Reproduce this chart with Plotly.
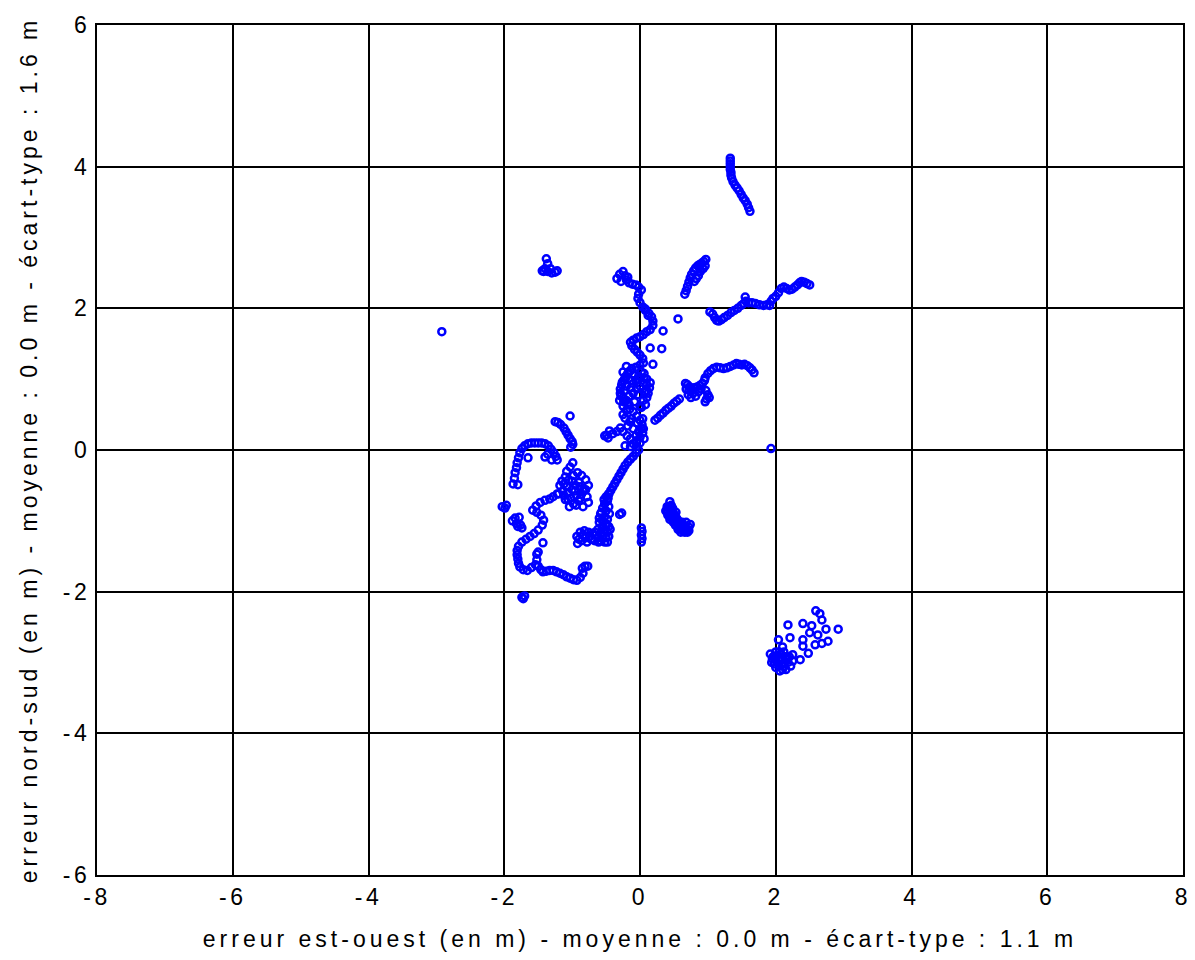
import plotly.graph_objects as go

# --- data (east-west error x, north-south error y, metres) ---
track_a_x = [1.33,1.33,1.33,1.33,1.33,1.34,1.34,1.35,1.37,1.40,1.43,1.46,1.49,1.52,1.55,1.58,1.60,1.62]
track_a_y = [4.12,4.08,4.04,4.00,3.96,3.92,3.88,3.84,3.79,3.74,3.70,3.66,3.61,3.56,3.52,3.47,3.42,3.37]

track_b_x = [1.03,1.07,1.10,1.13,1.16,1.20,1.24,1.29,1.34,1.39,1.44,1.49,1.53,1.56,1.55,1.60,1.65,1.70,1.76,1.82,1.87,1.91,1.93,1.96,2.00,2.04,2.08,2.12,2.16,2.20,2.24,2.28,2.32,2.35,2.38,2.42,2.46,2.50]
track_b_y = [1.95,1.92,1.87,1.83,1.82,1.84,1.87,1.90,1.94,1.97,2.00,2.04,2.07,2.10,2.16,2.08,2.08,2.07,2.05,2.04,2.05,2.04,2.10,2.14,2.17,2.22,2.28,2.30,2.28,2.26,2.27,2.30,2.33,2.36,2.38,2.37,2.35,2.33]

track_c_x = [0.96,1.00,1.04,1.08,1.13,1.18,1.23,1.28,1.33,1.38,1.42,1.46,1.50,1.54,1.58,1.62,1.65,1.68]
track_c_y = [1.02,1.08,1.12,1.15,1.17,1.16,1.15,1.16,1.18,1.20,1.22,1.21,1.20,1.21,1.19,1.16,1.13,1.09]

cluster_d_x = [0.67,0.70,0.73,0.68,0.72,0.76,0.80,0.78,0.82,0.75,0.84,0.88,0.92,0.95,0.97,1.00,0.98,1.02,0.96,0.71,0.86,0.90]
cluster_d_y = [0.94,0.92,0.89,0.86,0.84,0.86,0.88,0.80,0.76,0.74,0.89,0.91,0.94,0.98,0.84,0.78,0.72,0.74,0.68,0.78,0.82,0.86]

track_e_x = [0.22,0.26,0.30,0.34,0.38,0.42,0.46,0.50,0.54,0.58]
track_e_y = [0.42,0.45,0.49,0.52,0.56,0.59,0.62,0.66,0.69,0.72]

cluster_f_x = [0.66,0.68,0.70,0.72,0.74,0.76,0.79,0.82,0.85,0.88,0.91,0.94,0.97,0.96,0.93,0.89,0.86,0.83,0.80,0.88]
cluster_f_y = [2.20,2.25,2.31,2.37,2.43,2.48,2.53,2.57,2.60,2.62,2.64,2.66,2.69,2.60,2.56,2.52,2.46,2.42,2.38,2.58]

cluster_g_x = [-1.38,-1.36,-1.40,-1.44,-1.36,-1.30,-1.25,-1.22,-1.32,-1.42]
cluster_g_y = [2.70,2.63,2.56,2.53,2.52,2.50,2.51,2.53,2.56,2.52]

isolated_x = [-2.92,1.93,0.56,0.34,0.15,0.32,0.19]
isolated_y = [1.67,0.02,1.85,1.68,1.44,1.43,1.21]

column_top_x = [-0.34,-0.30,-0.25,-0.22,-0.20,-0.16,-0.11,-0.06,-0.02,0.02,-0.02,-0.03,0.00,0.04,0.08,0.13,0.17,0.19,0.19,0.15,0.10,0.05,0.00,-0.05,-0.10,-0.14,-0.12,-0.08,-0.04,0.00,0.04,0.05,0.00,-0.06,-0.12,0.08,0.12,-0.28,-0.18]
column_top_y = [2.42,2.48,2.52,2.46,2.40,2.36,2.34,2.33,2.30,2.26,2.20,2.14,2.08,2.02,1.97,1.93,1.88,1.82,1.76,1.70,1.67,1.63,1.60,1.58,1.55,1.52,1.47,1.42,1.38,1.34,1.29,1.23,1.20,1.17,1.15,1.99,1.90,2.38,2.44]

column_low_x = [-0.17,-0.21,-0.24,-0.27,-0.29,-0.29,-0.25,-0.20,-0.16,-0.10,-0.05,0.00,0.05,0.10,0.14,0.12,0.10,0.05,-0.18,-0.25,-0.15,-0.10,-0.05,0.00,0.03,0.05,0.04,0.00,-0.05,-0.10,-0.14,-0.19,-0.25,-0.29,-0.34,-0.40,-0.45,-0.49,-0.52,-0.47,-0.05,0.00,-0.22,-0.20,-0.25,0.10,0.15,-0.30,-0.25,-0.08,-0.02,0.06,-0.12,-0.20,0.02,0.08,-0.15,-0.22,
                -0.26,-0.22,-0.18,-0.14,-0.10,-0.06,-0.02,0.02,0.06,0.10,-0.28,-0.23,-0.13,-0.03,0.07,-0.24,-0.16,-0.08,0.00,0.08,-0.20,-0.12,-0.04,0.04,-0.18,-0.10,-0.02,0.06,-0.14,-0.06,0.02]
column_low_y = [1.10,1.04,0.98,0.92,0.86,0.80,0.74,0.70,0.76,0.80,0.86,0.90,0.95,0.92,0.88,0.80,0.74,0.70,0.64,0.62,0.58,0.54,0.48,0.42,0.36,0.30,0.24,0.18,0.13,0.09,0.05,0.20,0.26,0.31,0.26,0.23,0.27,0.21,0.20,0.17,0.05,0.10,0.06,1.18,1.10,1.00,0.95,0.70,0.50,1.05,1.00,1.08,0.98,0.90,0.60,0.82,0.40,0.45,
                0.96,1.02,1.08,1.12,0.94,0.98,1.04,1.10,1.02,0.84,0.76,0.84,0.88,0.78,0.82,0.68,0.64,0.68,0.62,0.64,0.56,0.44,0.38,0.44,0.34,0.30,0.26,0.16,0.16,0.20,0.30]

diag_n_x = [-0.02,-0.06,-0.10,-0.14,-0.18,-0.22,-0.25,-0.28,-0.31,-0.34,-0.37,-0.40,-0.43,-0.46]
diag_n_y = [0.00,-0.04,-0.09,-0.13,-0.17,-0.22,-0.27,-0.32,-0.37,-0.42,-0.47,-0.52,-0.57,-0.62]

blob_p_x = [-0.46,-0.50,-0.48,-0.52,-0.46,-0.55,-0.50,-0.45,-0.58,-0.52,-0.48,-0.55,-0.60,-0.50,-0.46,-0.56,-0.62,-0.52,-0.48,-0.58,-0.65,-0.55,-0.50,-0.62,-0.70,-0.58,-0.52,-0.76,-0.82,-0.88,-0.93,-0.80,-0.86,-0.92,-0.78,-0.46,-0.48,
            -0.47,-0.53,-0.57,-0.49,-0.44,-0.60,-0.54,-0.67,-0.72,-0.84,-0.90,-0.74,-0.66,-0.61]
blob_p_y = [-0.62,-0.66,-0.72,-0.76,-0.80,-0.82,-0.86,-0.90,-0.90,-0.94,-0.98,-1.00,-1.02,-1.04,-1.08,-1.08,-1.12,-1.12,-1.16,-1.18,-1.20,-1.22,-1.24,-1.24,-1.18,-1.28,-1.30,-1.16,-1.14,-1.16,-1.22,-1.24,-1.28,-1.32,-1.30,-1.22,-1.30,
            -0.68,-0.70,-0.88,-1.06,-1.12,-0.96,-1.16,-1.28,-1.26,-1.20,-1.26,-1.22,-1.16,-1.30]

blob_q_x = [-0.99,-1.03,-1.08,-1.10,-1.15,-1.18,-1.12,-1.05,-0.98,-0.92,-0.86,-0.80,-0.76,-0.82,-0.88,-0.95,-1.00,-1.06,-1.12,-1.02,-0.94,-0.86,-0.78,-0.90,-0.98,-1.04,-0.84,-0.76,-1.14,-1.20,
            -1.00,-0.96,-1.06,-0.90,-0.84,-1.10,-0.94,-0.88,-1.08,-0.80]
blob_q_y = [-0.18,-0.24,-0.30,-0.38,-0.44,-0.50,-0.48,-0.42,-0.36,-0.32,-0.36,-0.42,-0.50,-0.56,-0.52,-0.50,-0.56,-0.60,-0.64,-0.68,-0.64,-0.62,-0.66,-0.72,-0.76,-0.80,-0.80,-0.74,-0.58,-0.62,
            -0.44,-0.58,-0.70,-0.46,-0.58,-0.70,-0.78,-0.68,-0.52,-0.56]

cluster_r_x = [-1.25,-1.21,-1.17,-1.03,-1.12,-1.09,-1.06,-1.03,-1.00,-0.99,-1.02]
cluster_r_y = [0.40,0.39,0.36,0.48,0.31,0.26,0.21,0.16,0.12,0.08,0.04]

arc_s_x = [-1.22,-1.24,-1.27,-1.31,-1.35,-1.40,-1.45,-1.50,-1.55,-1.60,-1.65,-1.70,-1.74,-1.77,-1.79,-1.81,-1.82,-1.84,-1.85,-1.87,-1.80,-1.65,-1.40,-1.36,-1.30]
arc_s_y = [-0.14,-0.09,-0.04,0.01,0.06,0.09,0.10,0.10,0.10,0.10,0.09,0.06,0.02,-0.04,-0.11,-0.18,-0.25,-0.32,-0.40,-0.48,-0.49,-0.11,-0.10,-0.06,-0.14]

left_t_x = [-2.03,-1.99,-1.97,-1.88,-1.84,-1.82,-1.78,-1.76,-1.74,-1.80]
left_t_y = [-0.80,-0.82,-0.78,-1.00,-0.96,-1.04,-0.95,-1.06,-1.10,-1.08]

arm_u_x = [-1.22,-1.28,-1.33,-1.40,-1.47,-1.53,-1.58,-1.52,-1.46,-1.42,-1.44,-1.50,-1.56,-1.62,-1.68,-1.74,-1.79,-1.81,-1.81,-1.80,-1.79,-1.77,-1.72,-1.66,-1.60,-1.54,-1.52,-1.52,-1.50,-1.46,-1.43,-1.38,-1.33,-1.28,-1.23,-1.18,-1.13,-1.08,-1.03,-0.98,-0.93,-0.88,-0.84,-0.85,-0.81,-0.77,-1.43,-1.50]
arm_u_y = [-0.62,-0.66,-0.69,-0.71,-0.74,-0.79,-0.85,-0.88,-0.92,-0.99,-1.06,-1.13,-1.18,-1.22,-1.26,-1.30,-1.36,-1.42,-1.48,-1.54,-1.60,-1.65,-1.69,-1.70,-1.66,-1.62,-1.55,-1.47,-1.64,-1.69,-1.72,-1.71,-1.70,-1.70,-1.72,-1.74,-1.76,-1.79,-1.81,-1.83,-1.84,-1.80,-1.74,-1.67,-1.64,-1.64,-1.31,-1.44]

bottom_v_x = [-1.74,-1.72,-1.70]
bottom_v_y = [-2.08,-2.10,-2.06]

cluster_w_x = [0.44,0.46,0.42,0.40,0.44,0.48,0.52,0.50,0.55,0.58,0.62,0.60,0.65,0.68,0.72,0.74,0.70,0.64,0.56,0.60,0.02,0.03,0.02,0.03,0.02,-0.27,-0.30,
               0.47,0.50,0.53,0.56,0.59,0.62,0.66,0.70,0.45,0.52,0.58,0.64,0.68,
               0.38,0.41,0.46,0.50,0.54,0.49,0.58,0.62,0.66,0.72,0.52,0.44,0.40,0.48,0.53]
cluster_w_y = [-0.73,-0.78,-0.82,-0.88,-0.92,-0.88,-0.93,-0.98,-0.98,-1.04,-1.02,-1.10,-1.08,-1.13,-1.09,-1.05,-1.16,-1.15,-1.12,-1.16,-1.10,-1.15,-1.20,-1.25,-1.30,-0.89,-0.91,
               -0.85,-0.90,-0.95,-1.00,-1.06,-1.08,-1.12,-1.12,-0.80,-1.02,-1.10,-1.06,-1.02,
               -0.86,-0.92,-0.96,-0.94,-1.00,-1.02,-1.08,-1.12,-1.16,-1.14,-1.06,-0.98,-0.80,-0.82,-0.88]

cluster_z_x = [2.18,2.21,2.40,2.53,2.59,2.65,2.68,2.74,2.92,2.77,2.62,2.50,2.40,2.40,2.48,2.58,2.68,2.36,2.25,2.04,1.92,1.95,2.00,2.02,2.05,2.10,2.08,2.12,2.15,2.18,1.98,2.05,2.10,2.15,2.20,2.22,2.00,1.94,2.25,2.06,2.12,
               2.02,2.08,2.14,1.96,2.04,2.10,2.18,2.00,2.12]
cluster_z_y = [-2.47,-2.65,-2.45,-2.48,-2.27,-2.31,-2.40,-2.53,-2.53,-2.70,-2.61,-2.58,-2.68,-2.77,-2.87,-2.75,-2.73,-2.96,-2.89,-2.68,-2.88,-2.95,-2.92,-3.00,-3.05,-3.10,-2.95,-2.85,-2.95,-3.00,-3.02,-2.85,-2.78,-3.10,-2.92,-3.05,-3.07,-3.00,-2.98,-3.12,-3.02,
               -2.90,-2.88,-2.92,-2.92,-2.96,-3.02,-2.94,-2.85,-3.06]

x_ticks = [-8, -6, -4, -2, 0, 2, 4, 6, 8]
y_ticks = [-6, -4, -2, 0, 2, 4, 6]
x_label = "erreur est-ouest (en m) - moyenne : 0.0 m - écart-type : 1.1 m"
y_label = "erreur nord-sud (en m) - moyenne : 0.0 m - écart-type : 1.6 m"

all_x = (track_a_x + track_b_x + track_c_x + cluster_d_x + track_e_x + cluster_f_x + cluster_g_x
         + isolated_x + column_top_x + column_low_x + diag_n_x + blob_p_x + blob_q_x + cluster_r_x
         + arc_s_x + left_t_x + arm_u_x + bottom_v_x + cluster_w_x + cluster_z_x)
all_y = (track_a_y + track_b_y + track_c_y + cluster_d_y + track_e_y + cluster_f_y + cluster_g_y
         + isolated_y + column_top_y + column_low_y + diag_n_y + blob_p_y + blob_q_y + cluster_r_y
         + arc_s_y + left_t_y + arm_u_y + bottom_v_y + cluster_w_y + cluster_z_y)

FONT = "Liberation Sans, Arial, sans-serif"


def spaced(s, px=4.0):
    return '<span style="letter-spacing:%.1fpx">%s</span>' % (px, s)


fig = go.Figure()
fig.add_trace(go.Scatter(
    x=all_x, y=all_y, mode="markers",
    marker=dict(symbol="circle-open", size=7, color="#0000ff", line=dict(width=2.5, color="#0000ff")),
    showlegend=False,
))

axis_common = dict(
    showgrid=True, gridcolor="black", gridwidth=2,
    showline=True, linecolor="black", linewidth=2, mirror=True,
    zeroline=True, zerolinecolor="black", zerolinewidth=2,
    ticks="", automargin=False,
    tickfont=dict(family=FONT, size=23, color="black"),
)
fig.update_xaxes(range=[-8, 8], tickmode="array", tickvals=x_ticks,
                 ticktext=[spaced(str(v), 3.6) for v in x_ticks],
                 title=dict(text=spaced(x_label), font=dict(family=FONT, size=23, color="black"), standoff=22),
                 **axis_common)
fig.update_yaxes(range=[-6, 6], tickmode="array", tickvals=y_ticks,
                 ticktext=[spaced(str(v), 3.6) for v in y_ticks],
                 title=dict(text=spaced(y_label), font=dict(family=FONT, size=23, color="black"), standoff=19),
                 **axis_common)
# the page body adds an 8px offset, so margins are shifted to keep the plot area at the reference position
fig.update_layout(
    width=1195, height=960,
    margin=dict(l=89, r=20, t=17, b=93),
    paper_bgcolor="white", plot_bgcolor="white",
    font=dict(family=FONT, size=23, color="black"),
)
fig.write_html("out.html")
